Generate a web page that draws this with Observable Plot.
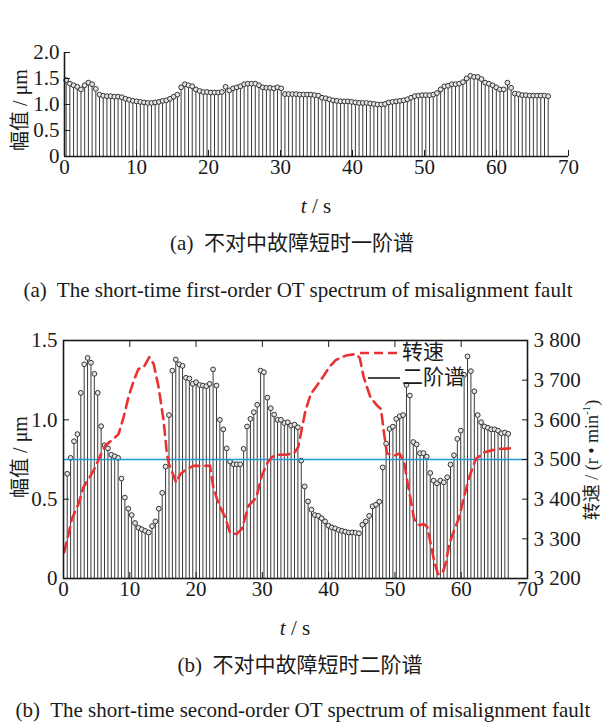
<!DOCTYPE html>
<html><head><meta charset="utf-8">
<script src="https://cdn.jsdelivr.net/npm/d3@7"></script>
<script src="https://cdn.jsdelivr.net/npm/@observablehq/plot@0.6"></script>
<style>
body{margin:0;background:#fff;}
#wrap{position:relative;width:602px;height:722px;font-family:"Liberation Serif","Noto Sans CJK SC",serif;color:#1a1a1a;overflow:hidden;}
.abs{position:absolute;white-space:pre;line-height:1;}
.svgbox{position:absolute;left:0;}
.rot{transform:translate(-50%,-50%) rotate(-90deg);}
.ctr{transform:translate(-50%,-50%);}
.cn{font-family:"Liberation Serif","Noto Sans CJK SC",serif;}
.legend{position:absolute;white-space:nowrap;line-height:1;}
.legend .row{display:flex;align-items:center;height:25px;font-size:21px;}
</style></head><body><div id="wrap"></div>
<script>
// ---------- data ----------
const xTicks = [0, 10, 20, 30, 40, 50, 60, 70];
const topYTicks = [0, 0.5, 1.0, 1.5, 2.0];
const botYTicks = [0, 0.5, 1.0, 1.5];
const speedTicks = [3200, 3300, 3400, 3500, 3600, 3700, 3800];

// (a) first-order spectrum amplitude (μm), sampled every ~0.515 s starting at 0.23 s
const topT0 = 0.23, topStep = 0.515;
const topValues = [
  1.47, 1.40, 1.37, 1.34, 1.29, 1.37, 1.42, 1.39, 1.30, 1.19,
  1.17, 1.16, 1.16, 1.15, 1.15, 1.14, 1.11, 1.09, 1.07, 1.06,
  1.05, 1.04, 1.03, 1.03, 1.04, 1.05, 1.07, 1.08, 1.11, 1.15,
  1.19, 1.33, 1.39, 1.37, 1.35, 1.29, 1.26, 1.24, 1.24, 1.23,
  1.23, 1.23, 1.24, 1.34, 1.27, 1.31, 1.33, 1.35, 1.39, 1.40,
  1.40, 1.40, 1.37, 1.33, 1.32, 1.32, 1.31, 1.33, 1.31,
  1.20, 1.20, 1.20, 1.20, 1.19, 1.19, 1.19, 1.19, 1.18, 1.17,
  1.13, 1.12, 1.10, 1.08, 1.07, 1.06, 1.06, 1.06, 1.05, 1.04,
  1.03, 1.03, 1.03, 1.02, 1.01, 1.00, 1.00, 1.01, 1.04, 1.05,
  1.06, 1.07, 1.08, 1.10, 1.13, 1.16, 1.17, 1.18, 1.18, 1.18,
  1.19, 1.22, 1.29, 1.35, 1.36, 1.39, 1.39, 1.40, 1.43, 1.50,
  1.55, 1.53, 1.53, 1.49, 1.42, 1.40, 1.37, 1.33, 1.29, 1.29,
  1.42, 1.32, 1.21, 1.20, 1.18, 1.18, 1.17, 1.17, 1.17, 1.17,
  1.17, 1.16
];

// (b) second-order spectrum amplitude (μm), sampled every ~0.512 s starting at 0.56 s
const botT0 = 0.56, botStep = 0.5118;
const botValues = [
  0.66, 0.76, 0.865, 0.91, 1.17, 1.35, 1.39, 1.36, 1.29, 1.17,
  0.96, 0.84, 0.82, 0.78, 0.77, 0.76, 0.63, 0.51, 0.44, 0.40,
  0.35, 0.32, 0.31, 0.30, 0.29, 0.33, 0.36, 0.44, 0.54, 0.705,
  1.03, 1.31, 1.38, 1.35, 1.34, 1.265, 1.26, 1.227, 1.237, 1.22,
  1.216, 1.212, 1.227, 1.318, 1.216, 1.00, 0.94, 0.82, 0.737, 0.72,
  0.72, 0.72, 0.817, 0.958, 1.006, 1.048, 1.095, 1.31, 1.30, 1.14,
  1.073, 1.033, 1.00, 1.00, 0.98, 0.985, 0.964, 0.97, 0.953, 0.743,
  0.58, 0.486, 0.434, 0.40, 0.395, 0.38, 0.36, 0.333, 0.322, 0.316,
  0.306, 0.30, 0.295, 0.29, 0.29, 0.288, 0.285, 0.339, 0.36, 0.395,
  0.455, 0.465, 0.484, 0.70, 0.85, 0.943, 0.957, 1.006, 1.023, 1.03,
  1.22, 1.153, 0.86, 0.845, 0.79, 0.79, 0.768, 0.665, 0.617, 0.60,
  0.617, 0.606, 0.638, 0.718, 0.777, 0.88, 0.932, 1.284, 1.40, 1.307,
  1.18, 1.03, 0.985, 0.958, 0.95, 0.94, 0.94, 0.932, 0.915, 0.92,
  0.912
];

// rotational speed (r/min)
const speedTimes = [
  0.1, 0.76, 1.26, 2.27, 3.0, 3.8, 4.8, 5.55, 6.3, 7.55, 8.3, 9.06, 9.8, 10.6, 11.3, 12.1, 12.95, 13.6,
  14.35, 15.1, 15.6, 15.9, 16.4, 17.0, 17.6, 18.6, 19.6, 22.1, 22.6, 23.4, 24.4, 25.1, 26.1, 26.9,
  27.9, 29.1, 29.9, 30.8, 31.5, 32.5, 33.5, 34.8, 35.4, 35.8, 36.5, 37.3, 38.05, 39.1, 40.1, 41.1,
  42.6, 44.1, 44.7, 45.3, 46.3, 47.3, 47.9, 48.3, 48.8, 49.9, 50.7, 51.4, 51.85, 52.4, 52.9, 53.6,
  54.4, 54.9, 55.4, 55.9, 56.5, 57.2, 57.7, 58.2, 58.9, 59.7, 60.4, 61.2, 62.2, 63.5, 65.5, 66.6, 68.1
];
const speedValues = [
  3266, 3312, 3350, 3388, 3430, 3451, 3480, 3510, 3535, 3552, 3564, 3606, 3657, 3699, 3728, 3733, 3758, 3741,
  3682, 3598, 3514, 3489, 3468, 3442, 3463, 3476, 3484, 3484, 3430, 3388, 3354, 3316, 3312, 3325,
  3383, 3404, 3459, 3493, 3507, 3512, 3512, 3516, 3531, 3564, 3623, 3665, 3682, 3707, 3733, 3751,
  3762, 3766, 3756, 3707, 3657, 3636, 3627, 3573, 3515, 3510, 3515, 3492, 3447, 3396, 3350, 3335,
  3337, 3329, 3287, 3245, 3211, 3215, 3240, 3287, 3320, 3354, 3404, 3455, 3501, 3518, 3527, 3527, 3529
];
const refSpeed = 3500;

// ---------- build ----------
const wrap = document.getElementById("wrap");
const font = '"Liberation Serif","Noto Sans CJK SC",serif';
const amp = d => d === 0 ? "0" : d.toFixed(1);
const speedFmt = s => `${Math.floor(s / 1000)} ${String(s % 1000).padStart(3, "0")}`;
const sMin = speedTicks[0], sMax = speedTicks[speedTicks.length - 1];
const yMaxB = botYTicks[botYTicks.length - 1];
const sToY = s => (s - sMin) / (sMax - sMin) * yMaxB;
const yToS = y => Math.round(sMin + y / yMaxB * (sMax - sMin));

const topData = topValues.map((v, i) => ({t: topT0 + topStep * i, v}));
const botData = botValues.map((v, i) => ({t: botT0 + botStep * i, v}));
const speedData = speedTimes.map((t, i) => ({t, s: speedValues[i]}));

const commonStyle = {fontFamily: font, fontSize: "21px", color: "#1a1a1a", background: "transparent", overflow: "visible"};

const topPlot = Plot.plot({
  width: 602, height: 185,
  marginLeft: 64, marginRight: 34, marginTop: 52, marginBottom: 29,
  x: {domain: [0, 70]},
  y: {domain: [0, 2]},
  style: commonStyle,
  marks: [
    Plot.ruleX(topData, {x: "t", y1: 0, y2: "v", stroke: "#3a3a3a", strokeWidth: 1}),
    Plot.dot(topData, {x: "t", y: "v", r: 2.4, stroke: "#333", fill: "#e4e4e4", strokeWidth: 1}),
    Plot.ruleY([0], {stroke: "#1a1a1a", strokeWidth: 1.6}),
    Plot.ruleX([0], {stroke: "#1a1a1a", strokeWidth: 1.6}),
    Plot.axisX(xTicks, {anchor: "bottom", tickSize: -6, tickPadding: 9, label: null, fontSize: 21, tickFormat: d => String(d)}),
    Plot.axisY(topYTicks, {anchor: "left", tickSize: -6, tickPadding: 11, label: null, fontSize: 21, tickFormat: amp})
  ]
});
topPlot.classList.add("svgbox");
topPlot.style.top = "0px";
wrap.appendChild(topPlot);

const botPlot = Plot.plot({
  width: 602, height: 310,
  marginLeft: 63, marginRight: 75, marginTop: 40, marginBottom: 32,
  x: {domain: [0, 70]},
  y: {domain: [0, yMaxB]},
  style: commonStyle,
  marks: [
    Plot.ruleX(botData, {x: "t", y1: 0, y2: "v", stroke: "#3a3a3a", strokeWidth: 1}),
    Plot.dot(botData, {x: "t", y: "v", r: 2.4, stroke: "#333", fill: "#e4e4e4", strokeWidth: 1}),
    Plot.ruleY([refSpeed], {y: d => sToY(d), stroke: "#1f9ad8", strokeWidth: 1.7}),
    Plot.line(speedData, {x: "t", y: d => sToY(d.s), stroke: "#ea3030", strokeWidth: 2.6, strokeDasharray: "10,6", curve: "linear"}),
    Plot.frame({stroke: "#1a1a1a", strokeWidth: 1.6}),
    Plot.axisX(xTicks, {anchor: "bottom", tickSize: -6, tickPadding: 9, label: null, fontSize: 21, tickFormat: d => String(d)}),
    Plot.axisX(xTicks, {anchor: "top", tickSize: -6, tickPadding: 0, label: null, tickFormat: () => ""}),
    Plot.axisY(botYTicks, {anchor: "left", tickSize: -6, tickPadding: 12, label: null, fontSize: 21, tickFormat: amp}),
    Plot.axisY(speedTicks.map(sToY), {anchor: "right", tickSize: -6, tickPadding: 12, label: null, fontSize: 21, tickFormat: y => speedFmt(yToS(y))})
  ]
});
botPlot.classList.add("svgbox");
botPlot.style.top = "300px";
wrap.appendChild(botPlot);

// ---------- texts ----------
function addText(html, x, y, cls, size) {
  const d = document.createElement("div");
  d.className = "abs " + cls;
  d.style.left = x + "px";
  d.style.top = y + "px";
  d.style.fontSize = size + "px";
  d.innerHTML = html;
  wrap.appendChild(d);
  return d;
}
addText("幅值 / μm", 20, 110, "rot cn", 20);
addText("<i>t</i> / s", 316, 206, "ctr", 21);
addText("(a)  不对中故障短时一阶谱", 292, 243, "ctr cn", 21);
addText("(a)  The short-time first-order OT spectrum of misalignment fault", 298, 290, "ctr", 21);

addText("幅值 / μm", 20, 457, "rot cn", 20);
addText("转速 / (r • min<sup style='font-size:11px;vertical-align:8px;line-height:0'>-1</sup>)", 592, 460, "rot cn", 18);
addText("<i>t</i> / s", 295, 628, "ctr", 21);
addText("(b)  不对中故障短时二阶谱", 300, 665, "ctr cn", 21);
addText("(b)  The short-time second-order OT spectrum of misalignment fault", 303, 710, "ctr", 21);

// legend
const lg = document.createElement("div");
lg.className = "legend";
lg.style.left = "358px";
lg.style.top = "340px";
lg.innerHTML =
  '<div class="row"><svg width="42" height="10"><line x1="2" y1="5" x2="40" y2="5" stroke="#ea3030" stroke-width="2.6" stroke-dasharray="9,5"/></svg>' +
  '<span class="cn" style="margin-left:2px">转速</span></div>' +
  '<div class="row"><svg width="42" height="10"><line x1="10" y1="5" x2="42" y2="5" stroke="#1a1a1a" stroke-width="1.6"/></svg>' +
  '<span class="cn" style="margin-left:2px">二阶谱</span></div>';
wrap.appendChild(lg);
</script>
</body></html>
